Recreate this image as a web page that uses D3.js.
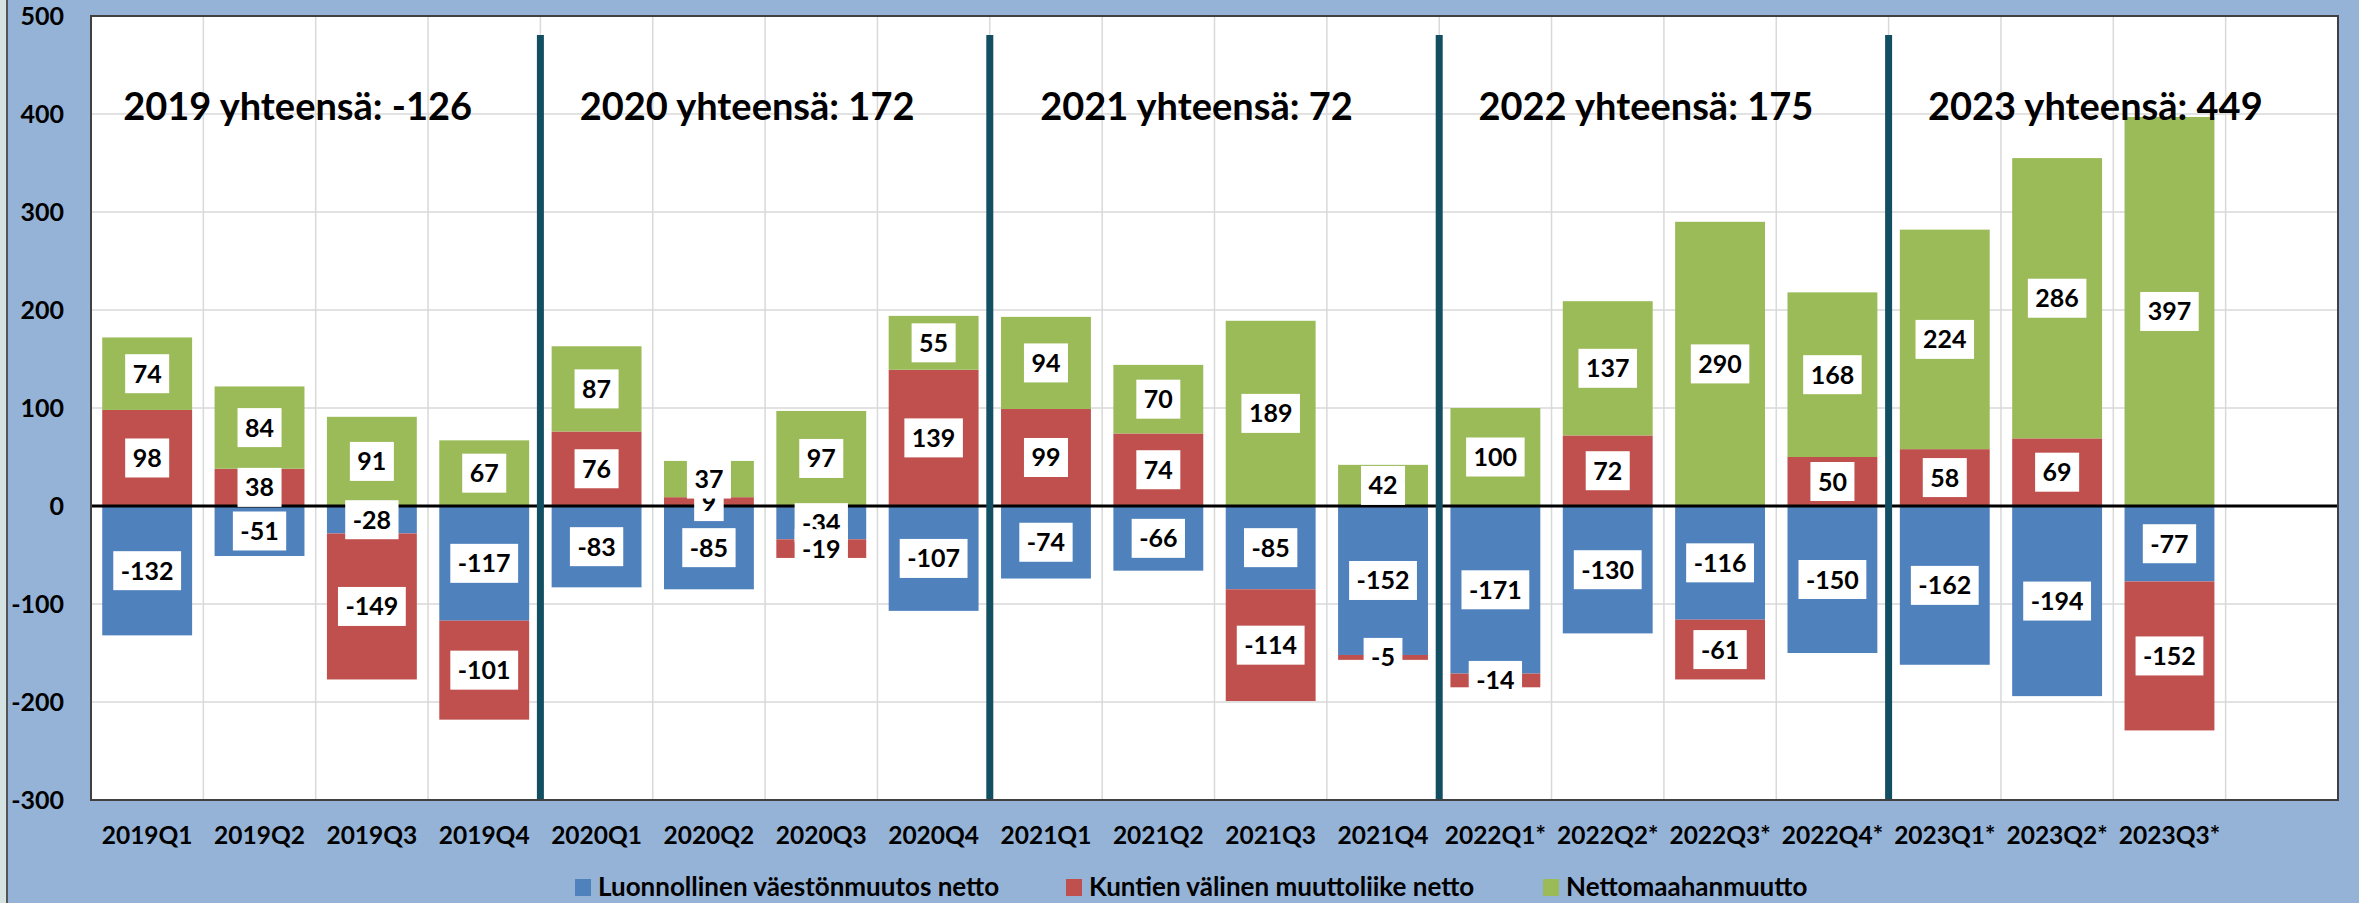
<!DOCTYPE html>
<html>
<head>
<meta charset="utf-8">
<script src="https://cdn.jsdelivr.net/npm/d3@7"></script>
<style>
  html, body { margin: 0; padding: 0; background: #95B3D7; }
  svg { display: block; }
  text { font-family: Lato, "Open Sans", sans-serif; font-weight: bold; fill: #000; }
</style>
</head>
<body>
<svg id="chart" width="2359" height="903"></svg>
<script>
// ---- data ----
const categories = ["2019Q1","2019Q2","2019Q3","2019Q4","2020Q1","2020Q2","2020Q3","2020Q4",
  "2021Q1","2021Q2","2021Q3","2021Q4","2022Q1*","2022Q2*","2022Q3*","2022Q4*",
  "2023Q1*","2023Q2*","2023Q3*"];
const seriesNames = ["Luonnollinen väestönmuutos netto","Kuntien välinen muuttoliike netto","Nettomaahanmuutto"];
const luonnollinen = [-132,-51,-28,-117,-83,-85,-34,-107,-74,-66,-85,-152,-171,-130,-116,-150,-162,-194,-77];
const kuntienValinen = [98,38,-149,-101,76,9,-19,139,99,74,-114,-5,-14,72,-61,50,58,69,-152];
const nettomaahanmuutto = [74,84,91,67,87,37,97,55,94,70,189,42,100,137,290,168,224,286,397];
const yearTitles = ["2019 yhteensä: -126","2020 yhteensä: 172","2021 yhteensä: 72","2022 yhteensä: 175","2023 yhteensä: 449"];
const yTicks = [500,400,300,200,100,0,-100,-200,-300];
const colors = ["#4F81BD","#C0504D","#9BBB59"];

// ---- layout ----
const W = 2359, H = 903;
const plot = {left: 91, right: 2338, top: 16, bottom: 800};
const svg = d3.select("#chart");

// background and left strip
svg.append("rect").attr("x",0).attr("y",0).attr("width",W).attr("height",H).attr("fill","#95B3D7");
svg.append("rect").attr("x",0).attr("y",0).attr("width",6).attr("height",H).attr("fill","#D5E4E3");
svg.append("line").attr("x1",7).attr("x2",7).attr("y1",0).attr("y2",H).attr("stroke","#555").attr("stroke-width",2);

const slots = categories.concat([""]); // Excel leaves one empty slot at the end
const x = d3.scaleBand().domain(d3.range(slots.length)).range([plot.left, plot.right]).paddingInner(0).paddingOuter(0);
const barPad = 0.1;
const y = d3.scaleLinear().domain([-300, 500]).range([plot.bottom, plot.top]);

// plot area
svg.append("rect").attr("x",plot.left).attr("y",plot.top)
  .attr("width",plot.right-plot.left).attr("height",plot.bottom-plot.top).attr("fill","#fff");

// gridlines
const g = svg.append("g");
g.selectAll(".hg").data(yTicks).join("line")
  .attr("x1",plot.left).attr("x2",plot.right)
  .attr("y1",d=>y(d)).attr("y2",d=>y(d))
  .attr("stroke","#D9D9D9").attr("stroke-width",1.5);
g.selectAll(".vg").data(d3.range(1, slots.length)).join("line")
  .attr("x1",d=>x(d)).attr("x2",d=>x(d))
  .attr("y1",plot.top).attr("y2",plot.bottom)
  .attr("stroke","#D9D9D9").attr("stroke-width",1.5);

// stacking (positives and negatives separately, like Excel)
const seriesData = [luonnollinen, kuntienValinen, nettomaahanmuutto];
const segs = [];
categories.forEach((c, i) => {
  let pos = 0, neg = 0;
  seriesData.forEach((arr, s) => {
    const v = arr[i];
    let y0, y1;
    if (v >= 0) { y0 = pos; y1 = pos + v; pos = y1; }
    else { y0 = neg; y1 = neg + v; neg = y1; }
    segs.push({i, s, v, y0, y1});
  });
});

const bw = x.bandwidth() * (1 - 2*barPad);
svg.append("g").selectAll("rect").data(segs).join("rect")
  .attr("x", d => x(d.i) + x.bandwidth()*barPad)
  .attr("width", bw)
  .attr("y", d => y(Math.max(d.y0, d.y1)))
  .attr("height", d => Math.abs(y(d.y0) - y(d.y1)))
  .attr("fill", d => colors[d.s]);

// zero line
svg.append("line").attr("x1",plot.left).attr("x2",plot.right)
  .attr("y1",y(0)).attr("y2",y(0)).attr("stroke","#000").attr("stroke-width",3);

// year separators
const sepIdx = [4, 8, 12, 16];
svg.append("g").selectAll("rect").data(sepIdx).join("rect")
  .attr("x", d => x(d) - 3.5).attr("width", 7)
  .attr("y", 35).attr("height", plot.bottom - 35)
  .attr("fill", "#134F62");

// plot border
svg.append("rect").attr("x",plot.left).attr("y",plot.top)
  .attr("width",plot.right-plot.left).attr("height",plot.bottom-plot.top)
  .attr("fill","none").attr("stroke","#404040").attr("stroke-width",2);

// data labels (series order: later series drawn on top)
const lab = svg.append("g");
segs.forEach(d => {
  const cx = x(d.i) + x.bandwidth()/2;
  const cy = y((d.y0 + d.y1)/2);
  const grp = lab.append("g");
  const r = grp.append("rect").attr("fill","#fff");
  const t = grp.append("text").attr("x",cx).attr("y",cy).attr("dy","0.36em")
    .attr("text-anchor","middle").style("font-size","25px").text(d.v);
  const bb = t.node().getBBox();
  const bwid = bb.width + 15;
  r.attr("x", cx - bwid/2).attr("width", bwid).attr("y", cy - 19.5).attr("height", 39);
});

// year titles
svg.append("g").selectAll("text").data(yearTitles).join("text")
  .attr("x", (d,k) => x(k*4) + 2*x.step() - 18)
  .attr("y", 120)
  .attr("text-anchor","middle")
  .style("font-size","38px")
  .text(d => d);

// y axis labels
svg.append("g").selectAll("text").data(yTicks).join("text")
  .attr("x", 64).attr("y", d => y(d)).attr("dy","0.36em")
  .attr("text-anchor","end").style("font-size","25px").text(d => d);

// x axis labels
svg.append("g").selectAll("text").data(categories).join("text")
  .attr("x", (d,i) => x(i) + x.bandwidth()/2).attr("y", 844)
  .attr("text-anchor","middle").style("font-size","24.5px").text(d => d);

// legend
const legX = [575, 1066, 1543];
const leg = svg.append("g");
seriesNames.forEach((n, s) => {
  leg.append("rect").attr("x", legX[s]).attr("y", 879).attr("width", 16).attr("height", 17).attr("fill", colors[s]);
  leg.append("text").attr("x", legX[s] + 23).attr("y", 896).style("font-size","26px").text(n);
});
</script>
</body>
</html>
